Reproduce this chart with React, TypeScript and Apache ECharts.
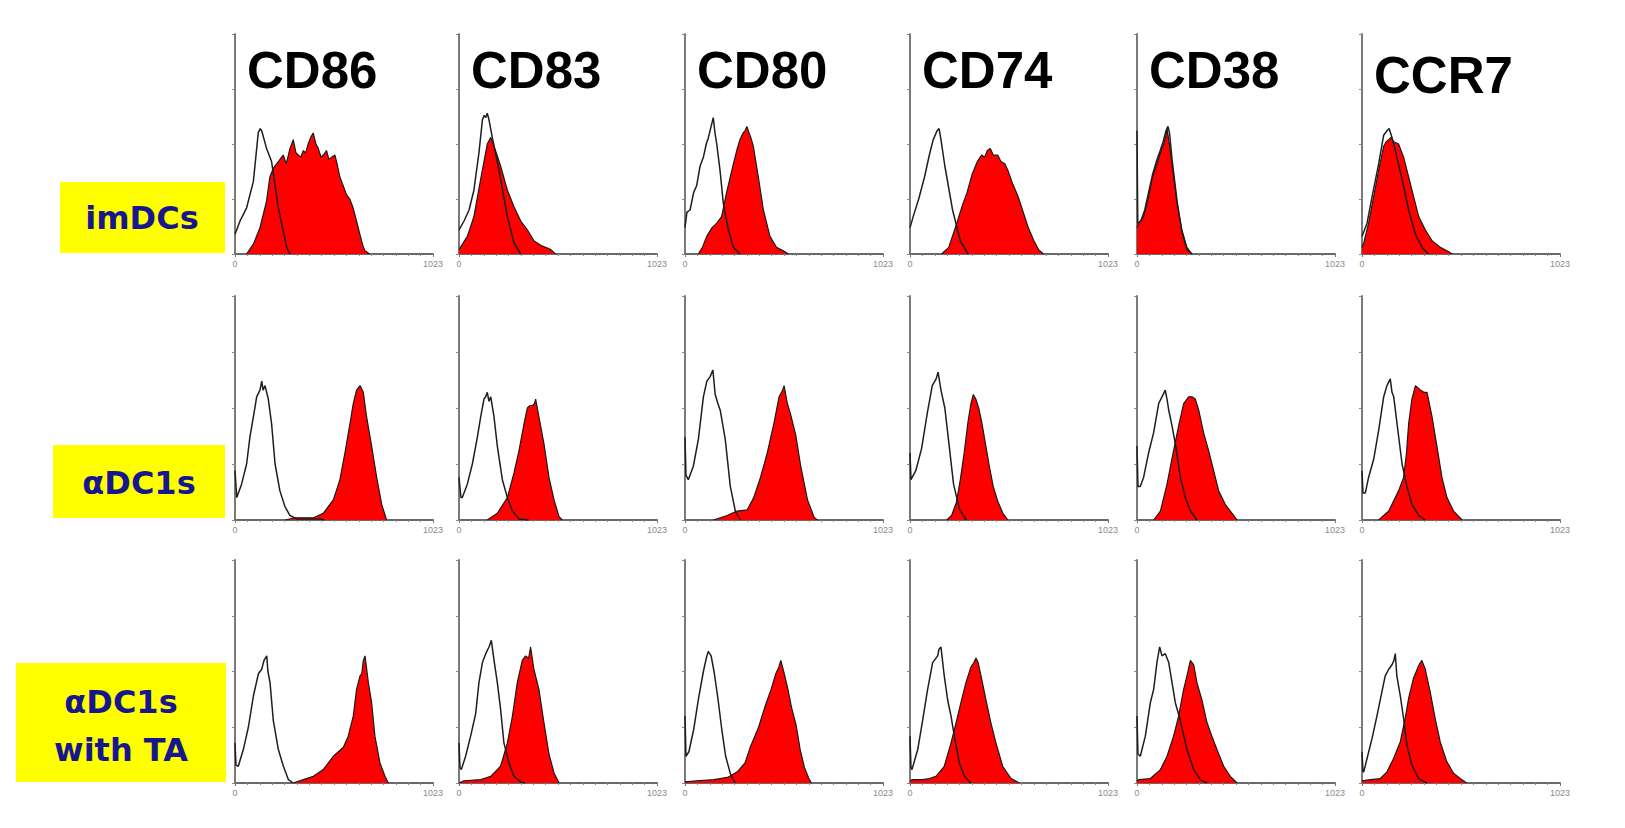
import React, { useEffect, useRef } from "react";
import * as echarts from "echarts";

// ---------- DATA (channel 0..1023, % of max event count) ----------
const MARKERS = ["CD86", "CD83", "CD80", "CD74", "CD38", "CCR7"];
const CONDITIONS = ["imDCs", "αDC1s", "αDC1s\nwith TA"];
const X_TICK_LABELS = ["0", "1023"];

// Row 1: imDCs
const IM_CD86_ISO = [[0,9],[26,15],[60,21],[95,33],[120,55],[130,57],[138,56],[163,48],[189,42],[224,21],[267,3],[284,0]];
const IM_CD86_STAIN = [[60,0],[95,4.5],[129,12],[163,24],[180,35],[198,39],[224,42],[249,45],[265,41],[284,48],[301,52],[315,46],[327,45],[340,44],[352,47],[365,46],[378,50],[391,53],[404,55],[418,50],[430,48],[445,44],[456,45],[473,47],[485,43],[499,44],[516,45],[530,40],[542,35],[559,31],[576,27],[593,25],[610,21],[628,15],[645,9],[660,4],[671,1.5],[696,0]];
const IM_CD83_ISO = [[0,11],[26,15],[52,20],[77,29],[103,46],[121,61],[130,63],[138,62],[146,64],[155,61],[172,53],[207,38],[250,17],[284,5],[319,0]];
const IM_CD83_STAIN = [[0,2],[43,8],[77,17],[112,34],[146,50],[164,53],[189,47],[215,40],[250,29],[284,21.5],[319,15],[353,11],[387,6],[422,4],[474,2],[499,0]];
const IM_CD80_ISO = [[0,12],[10,19],[26,20],[45,28],[60,31],[78,40],[95,44],[110,50],[121,53],[135,58],[146,62],[155,55],[164,50],[181,38],[198,23],[224,11],[250,3],[284,0]];
const IM_CD80_STAIN = [[69,0],[90,3],[112,8],[140,12],[164,14],[189,17],[215,28],[250,41],[270,48],[284,52],[300,55],[310,56],[320,58],[327,56],[340,53],[353,49],[379,35],[405,20],[439,8],[473,3],[517,1],[534,0]];
const IM_CD74_ISO = [[0,12],[20,18],[45,25],[75,35],[100,45],[120,52],[140,56],[150,57],[160,52],[180,40],[200,30],[220,20],[260,6],[300,0]];
const IM_CD74_STAIN = [[163,0],[200,3],[242,14],[270,22],[295,28],[320,36],[348,42],[370,45],[385,44],[400,47],[415,48],[430,45],[453,45],[470,42],[490,41],[506,38],[530,32],[559,26],[585,19],[611,12],[640,6],[664,2],[690,0]];
const IM_CD38_ISO = [[0,56],[4,14],[20,15],[40,20],[60,28],[80,36],[100,42],[120,47],[135,51],[150,56],[160,58],[168,55],[181,43],[207,24],[232,10],[258,2],[284,0]];
const IM_CD38_STAIN = [[0,12],[9,14],[34,17],[60,26],[77,34],[103,41],[121,46],[138,50],[150,54],[155,57],[164,52],[181,41],[207,23],[232,11],[258,3],[284,0]];
const IM_CCR7_ISO = [[0,8],[26,14],[52,26],[86,41],[112,54],[129,56],[140,57],[155,53],[172,47],[207,34],[241,20],[276,9],[310,3],[344,0]];
const IM_CCR7_STAIN = [[0,3],[9,5],[34,14],[60,26],[86,38],[112,49],[125,51],[138,52],[150,53],[164,51],[189,50],[215,44],[241,35],[267,26],[293,17],[327,11],[362,6],[405,3],[448,1],[465,0]];

// Row 2: αDC1s
const DC1_CD86_ISO = [[0,22],[9,10],[34,16],[60,25],[77,37],[95,46],[112,55],[129,58],[138,62],[145,58],[155,60],[172,54],[189,43],[207,25],[232,13],[258,6],[284,2],[319,0.5],[440,0.5],[460,0]];
const DC1_CD86_STAIN = [[260,0],[310,1],[405,1],[456,3],[508,9],[542,18],[568,30],[594,43],[611,52],[628,58],[646,60],[663,57],[680,46],[706,33],[732,19],[758,7],[783,0]];
const DC1_CD83_ISO = [[0,19],[10,10],[17,10],[43,16],[69,25],[95,37],[112,46],[129,54],[138,55],[146,57],[155,53],[164,55],[181,46],[198,33],[224,18],[250,10],[276,4],[310,0.5],[360,0]];
const DC1_CD83_STAIN = [[146,0],[198,3],[250,10],[284,21],[310,31],[336,43],[353,50],[365,51],[379,51],[390,52],[396,54],[413,46],[439,34],[465,19],[491,9],[517,1.5],[534,0]];
const DC1_CD80_ISO = [[0,37],[5,20],[17,18],[43,24],[69,36],[95,55],[113,62],[130,64],[144,67],[156,56],[170,52],[182,49],[208,36],[234,15],[260,4],[286,0]];
const DC1_CD80_STAIN = [[147,0],[217,2],[269,4],[321,4.5],[355,10],[390,19],[425,30],[459,43],[486,55],[505,58],[512,60],[529,52],[546,47],[572,38],[598,24],[633,9],[668,1],[685,0]];
const DC1_CD74_ISO = [[0,30],[5,18],[30,22],[60,32],[90,48],[115,60],[135,63],[145,66],[160,58],[180,50],[200,35],[225,16],[255,5],[290,0]];
const DC1_CD74_STAIN = [[190,0],[215,2],[240,8],[260,18],[280,30],[300,44],[315,52],[327,56],[340,54],[355,50],[370,44],[390,34],[410,24],[430,15],[455,8],[480,3],[506,0]];
const DC1_CD38_ISO = [[0,33],[5,15],[17,15],[34,19],[60,30],[86,39],[112,52],[129,55],[146,58],[155,54],[164,49],[181,42],[198,34],[224,19],[250,10],[276,4],[310,0]];
const DC1_CD38_STAIN = [[86,0],[121,4],[155,16],[189,31],[215,42],[241,52],[267,55],[284,55],[301,54],[319,49],[344,39],[370,31],[396,22],[422,13],[456,7],[491,3],[517,0]];
const DC1_CCR7_ISO = [[0,22],[5,12],[17,12],[34,19],[60,27],[86,40],[112,55],[129,60],[146,63],[155,57],[164,55],[181,43],[207,25],[232,15],[258,7],[293,2],[327,0]];
const DC1_CCR7_STAIN = [[86,0],[138,4],[189,13],[215,19],[230,30],[241,43],[258,54],[276,60],[290,59],[301,58],[320,57],[336,57],[362,46],[387,33],[413,19],[439,10],[473,4],[517,0]];

// Row 3: αDC1s with TA
const TA_CD86_ISO = [[0,18],[5,8],[17,7.5],[43,15],[69,25],[95,39],[121,49],[138,51],[150,55],[164,57],[170,50],[181,45],[198,28],[224,15],[250,7.5],[276,1.5],[301,0]];
const TA_CD86_STAIN = [[301,0],[353,1.5],[405,3],[456,6],[508,12],[560,16],[585,21],[611,30],[628,42],[646,48],[655,49],[663,55],[672,57],[689,45],[706,36],[723,21],[749,9],[775,3],[792,0]];
const TA_CD83_ISO = [[0,18],[5,7],[12,6],[34,12],[60,21],[86,31],[103,45],[121,54],[138,58],[155,61],[167,64],[181,55],[198,45],[215,33],[232,18],[258,9],[284,3],[319,0.5],[340,0]];
const TA_CD83_STAIN = [[0,0],[26,1],[112,1.5],[164,3],[215,7.5],[250,18],[276,30],[301,45],[327,55],[344,57],[360,56],[370,61],[387,51],[413,42],[439,27],[465,13],[491,4.5],[517,0]];
const TA_CD80_ISO = [[0,30],[5,12],[20,14],[45,24],[70,38],[95,50],[110,56],[120,59],[135,57],[150,50],[170,38],[190,24],[210,12],[235,4],[260,0]];
const TA_CD80_STAIN = [[0,0.5],[60,1],[150,1.5],[220,2.5],[270,5],[310,9],[337,16],[380,25],[416,35],[445,42],[469,49],[485,52],[495,55],[510,50],[532,42],[550,34],[574,26],[595,15],[617,7],[640,2],[653,0]];
const TA_CD74_ISO = [[0,21],[5,7],[10,6],[40,15],[65,28],[91,42],[117,54],[143,57],[150,60],[160,61],[177,48],[195,37],[212,30],[229,21],[255,9],[281,3],[315,0]];
const TA_CD74_STAIN = [[0,1],[14,1.5],[65,1.5],[100,2],[134,3],[177,7.5],[212,18],[238,27],[263,36],[289,45],[315,52],[330,54],[341,56],[352,54],[367,48],[393,37],[418,27],[444,18],[479,7.5],[522,2],[565,0]];
const TA_CD38_ISO = [[0,30],[5,13],[17,12],[43,21],[69,36],[86,42],[103,54],[117,61],[129,57],[146,58],[164,54],[181,45],[198,36],[224,28],[258,15],[293,6],[327,1.5],[362,0]];
const TA_CD38_STAIN = [[0,1],[9,1.5],[69,2],[121,6],[155,12],[189,21],[215,30],[241,42],[258,48],[276,55],[293,53],[310,45],[336,37],[362,27],[387,21],[413,15],[448,7.5],[482,3],[517,0]];
const TA_CCR7_ISO = [[0,14],[5,5],[9,5],[26,11],[52,20],[77,30],[103,41],[120,48],[138,51],[155,53],[165,55],[172,58],[180,48],[198,39],[215,29],[232,17],[258,8],[292,2],[335,0]];
const TA_CCR7_STAIN = [[0,1],[43,1.5],[95,2],[129,5],[163,11],[198,18.5],[223,29],[241,38],[266,47],[292,52.5],[309,55],[327,51],[352,41],[378,29],[404,18.5],[438,9.6],[473,4.4],[507,2],[541,0]];

const PANELS = [
  [[IM_CD86_ISO, IM_CD86_STAIN], [IM_CD83_ISO, IM_CD83_STAIN], [IM_CD80_ISO, IM_CD80_STAIN], [IM_CD74_ISO, IM_CD74_STAIN], [IM_CD38_ISO, IM_CD38_STAIN], [IM_CCR7_ISO, IM_CCR7_STAIN]],
  [[DC1_CD86_ISO, DC1_CD86_STAIN], [DC1_CD83_ISO, DC1_CD83_STAIN], [DC1_CD80_ISO, DC1_CD80_STAIN], [DC1_CD74_ISO, DC1_CD74_STAIN], [DC1_CD38_ISO, DC1_CD38_STAIN], [DC1_CCR7_ISO, DC1_CCR7_STAIN]],
  [[TA_CD86_ISO, TA_CD86_STAIN], [TA_CD83_ISO, TA_CD83_STAIN], [TA_CD80_ISO, TA_CD80_STAIN], [TA_CD74_ISO, TA_CD74_STAIN], [TA_CD38_ISO, TA_CD38_STAIN], [TA_CCR7_ISO, TA_CCR7_STAIN]],
];

// ---------- LAYOUT ----------
const COL_X = [235, 459, 685, 910, 1137, 1362];
const ROW_TOP = [34, 296, 560];
const ROW_H = [220, 224, 223];
const PANEL_W = 198;

export default function App() {
  const ref = useRef<HTMLDivElement>(null);

  useEffect(() => {
    if (!ref.current) return;
    const chart = echarts.init(ref.current, undefined, { renderer: "svg" });

    const grid: any[] = [];
    const xAxis: any[] = [];
    const yAxis: any[] = [];
    const series: any[] = [];

    PANELS.forEach((row, r) => {
      row.forEach(([iso, stain], c) => {
        const idx = grid.length;
        grid.push({
          left: COL_X[c],
          top: ROW_TOP[r],
          width: PANEL_W,
          height: ROW_H[r],
          containLabel: false,
          outerBoundsMode: "none",
        });
        xAxis.push({
          gridIndex: idx,
          type: "value",
          min: 0,
          max: 1023,
          interval: 1023,
          axisLine: { show: true, onZero: false, lineStyle: { color: "#6a6a6a", width: 2 } },
          axisTick: { show: true, length: 3, lineStyle: { color: "#777" } },
          minorTick: { show: true, splitNumber: 16, length: 2, lineStyle: { color: "#888" } },
          splitLine: { show: false },
          minorSplitLine: { show: false },
          axisLabel: {
            show: true,
            fontSize: 9,
            color: "#8a8a8a",
            margin: 5,
            fontFamily: "Arial, 'Liberation Sans', sans-serif",
            formatter: (v: number) => (v === 0 ? X_TICK_LABELS[0] : v === 1023 ? X_TICK_LABELS[1] : ""),
          },
        });
        yAxis.push({
          gridIndex: idx,
          type: "value",
          min: 0,
          max: 100,
          interval: 25,
          axisLine: { show: true, onZero: false, lineStyle: { color: "#7a7a7a", width: 2 } },
          axisTick: { show: true, length: 3, lineStyle: { color: "#888" } },
          axisLabel: { show: false },
          splitLine: { show: false },
        });
        series.push({
          type: "line",
          name: `${MARKERS[c]} ${CONDITIONS[r]} stain`,
          xAxisIndex: idx,
          yAxisIndex: idx,
          data: stain,
          showSymbol: false,
          symbol: "none",
          lineStyle: { color: "#1a1a1a", width: 1.2 },
          areaStyle: { color: "#fe0000", opacity: 1 },
          z: 2,
          silent: true,
        });
        series.push({
          type: "line",
          name: `${MARKERS[c]} ${CONDITIONS[r]} isotype`,
          xAxisIndex: idx,
          yAxisIndex: idx,
          data: iso,
          showSymbol: false,
          symbol: "none",
          lineStyle: { color: "#1e1e1e", width: 1.5 },
          z: 3,
          silent: true,
        });
      });
    });

    const titleFont = "Arial, 'Liberation Sans', sans-serif";
    const graphic: any[] = MARKERS.map((m, c) => ({
      type: "text",
      left: COL_X[c] + 12,
      top: m === "CCR7" ? 50 : 45,
      z: 10,
      style: {
        text: m,
        font: `bold 51px ${titleFont}`,
        fill: "#000",
      },
    }));

    const labelFont = "'DejaVu Sans', Verdana, sans-serif";
    const boxes = [
      { x: 60, y: 182, w: 165, h: 71, cx: 142, cy: 218 },
      { x: 53, y: 445, w: 172, h: 73, cx: 139, cy: 483 },
      { x: 16, y: 663, w: 210, h: 119, cx: 121, cy: 726 },
    ];
    boxes.forEach((b, i) => {
      graphic.push({
        type: "rect",
        shape: { x: b.x, y: b.y, width: b.w, height: b.h },
        style: { fill: "#ffff00" },
        z: 5,
      });
      graphic.push({
        type: "text",
        x: b.cx,
        y: b.cy,
        z: 6,
        style: {
          text: CONDITIONS[i],
          font: `bold 32px ${labelFont}`,
          fill: "#16168f",
          align: "center",
          verticalAlign: "middle",
          lineHeight: 48,
        },
      });
    });

    chart.setOption({
      animation: false,
      backgroundColor: "#ffffff",
      grid,
      xAxis,
      yAxis,
      series,
      graphic,
    });

    return () => chart.dispose();
  }, []);

  return (
    <div
      ref={ref}
      style={{ position: "fixed", left: 0, top: 0, width: 1625, height: 828 }}
    />
  );
}
